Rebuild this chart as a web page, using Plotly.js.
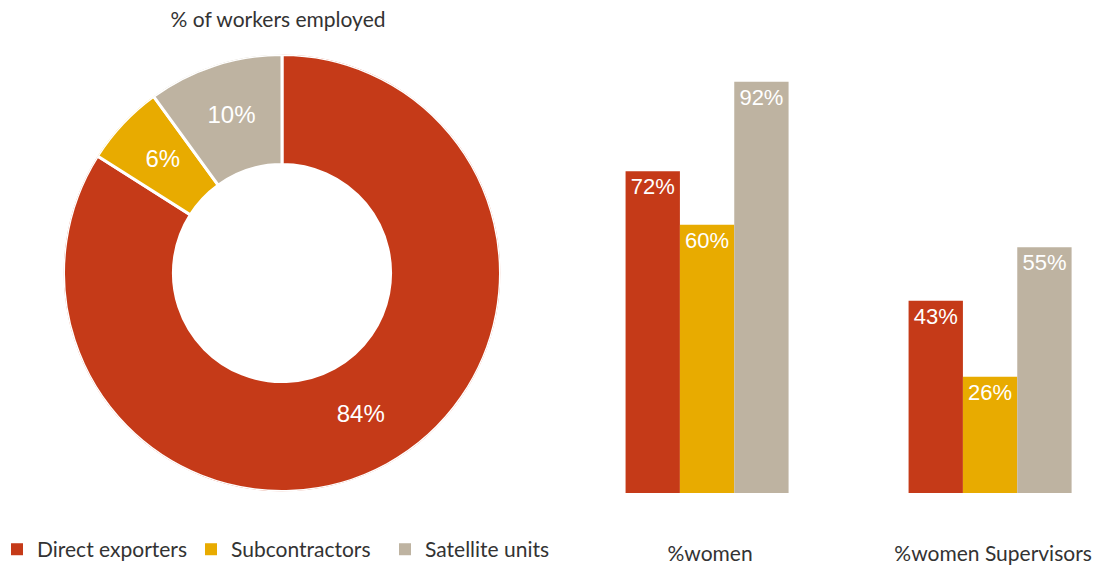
<!DOCTYPE html>
<html>
<head>
<meta charset="utf-8">
<script src="https://cdn.plot.ly/plotly-3.0.1.min.js"></script>
<style>html,body{margin:0;padding:0;background:#fff}#chart{width:1105px;height:565px}</style>
</head>
<body>
<div id="chart"></div>
<script>
// Data
const seriesNames = ["Direct exporters", "Subcontractors", "Satellite units"];
const seriesColors = ["#C53A18", "#E8AB00", "#BEB3A1"];
const workersShare = [84, 6, 10];
const pieTitle = "% of workers employed";
const barCategories = ["%women", "%women Supervisors"];
const directExporters = [72, 43];
const subcontractors = [60, 26];
const satelliteUnits = [92, 55];
const barSeries = [directExporters, subcontractors, satelliteUnits];

const textFont = "Lato, 'Open Sans', sans-serif";
const numFont = "'Liberation Sans', Arial, sans-serif";

const donutDomain = {x: [0.0575, 0.4529], y: [0.1301, 0.9035]};
const holeFrac = 0.497;

// Donut built in a polar subplot: angles and widths derived from the data (clockwise from top)
const total = workersShare.reduce((a, b) => a + b, 0);
let acc = 0;
const sliceTheta = workersShare.map(v => { const t = (acc + v / 2) / total * 360; acc += v; return t; });
const sliceWidth = workersShare.map(v => v / total * 360);

const traces = [{
  type: "barpolar",
  subplot: "polar",
  name: "share",
  theta: sliceTheta,
  width: sliceWidth,
  base: workersShare.map(() => holeFrac),
  r: workersShare.map(() => 1 - holeFrac),
  marker: {color: seriesColors, line: {color: "#ffffff", width: 3}},
  showlegend: false,
  hoverinfo: "skip"
}, {
  type: "scatterpolar",
  subplot: "polar",
  mode: "text",
  r: workersShare.map(() => (1 + holeFrac) / 2),
  theta: sliceTheta,
  text: workersShare.map(v => v + "%"),
  textposition: "middle center",
  textfont: {family: numFont, size: 24, color: "#ffffff"},
  showlegend: false,
  hoverinfo: "skip"
}];

barSeries.forEach((vals, i) => {
  traces.push({
    type: "bar",
    name: seriesNames[i],
    x: barCategories,
    y: vals,
    marker: {color: seriesColors[i], line: {width: 0}},
    text: vals.map(v => v + "%"),
    textposition: "inside",
    insidetextanchor: "end",
    textangle: 0,
    constraintext: "none",
    textfont: {family: numFont, size: 22, color: "#ffffff"},
    showlegend: true,
    xaxis: "x",
    yaxis: "y"
  });
});

const layout = {
  width: 1105,
  height: 565,
  margin: {l: 0, r: 0, t: 0, b: 0, autoexpand: false},
  paper_bgcolor: "#ffffff",
  plot_bgcolor: "#ffffff",
  font: {family: textFont, size: 21, color: "#333333"},
  title: {
    text: pieTitle,
    x: 0.2516, xanchor: "center",
    y: 0.965, yanchor: "middle",
    font: {family: textFont, size: 21, color: "#333333"}
  },
  polar: {
    domain: donutDomain,
    bgcolor: "rgba(0,0,0,0)",
    angularaxis: {rotation: 90, direction: "clockwise", visible: false, showgrid: false, showline: false},
    radialaxis: {range: [0, 1], visible: false, showgrid: false, showline: false},
    hole: 0
  },
  barmode: "group",
  bargap: 0.424,
  bargroupgap: 0,
  xaxis: {
    domain: [580 / 1105, 1],
    range: [-0.449, 1.406],
    showgrid: false, zeroline: false, showline: false,
    ticks: "",
    ticklabelstandoff: 46,
    ticklabelshift: 3,
    tickfont: {family: textFont, size: 21, color: "#333333"},
    fixedrange: true
  },
  yaxis: {
    domain: [0.1274, 0.9186],
    range: [0, 100],
    visible: false,
    fixedrange: true
  },
  showlegend: true,
  legend: {
    orientation: "h",
    traceorder: "normal",
    entrywidth: 149,
    x: -0.0027, xanchor: "left",
    y: -0.009, yanchor: "bottom",
    font: {family: textFont, size: 21, color: "#333333"},
    bgcolor: "rgba(0,0,0,0)"
  }
};

Plotly.newPlot("chart", traces, layout, {displayModeBar: false, staticPlot: true});
</script>
</body>
</html>
